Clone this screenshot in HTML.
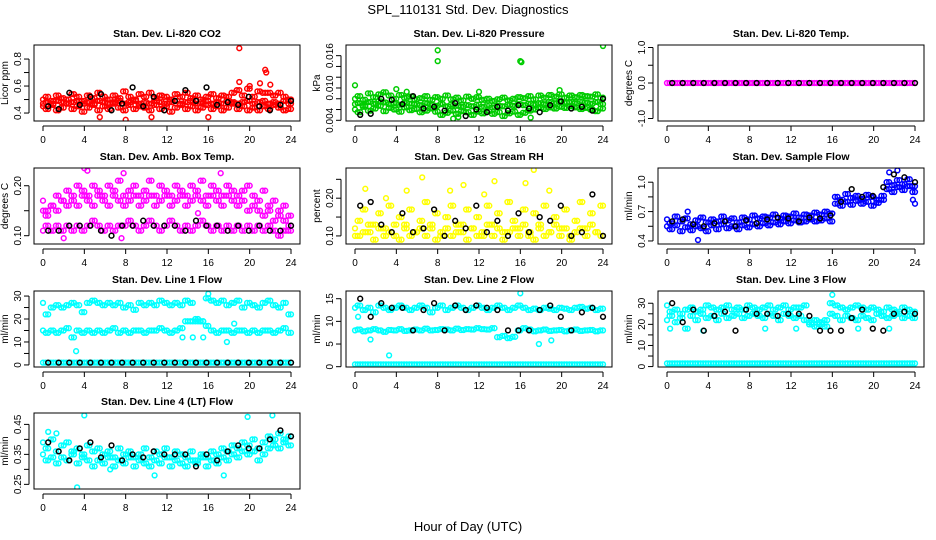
<!DOCTYPE html>
<html><head><meta charset="utf-8"><style>
body{margin:0;background:#fff;}
svg{display:block;font-family:"Liberation Sans",sans-serif;}
</style></head><body>
<svg id="chart" width="936" height="540" viewBox="0 0 936 540">
<rect width="936" height="540" fill="#fff"/>
<text x="468" y="14" text-anchor="middle" font-size="13">SPL_110131  Std. Dev. Diagnostics</text>
<text x="468" y="531" text-anchor="middle" font-size="13">Hour of Day (UTC)</text>
</svg>
<script>
const xTicks = [0,4,8,12,16,20,24];
const co2A = [0.50,0.52,0.49,0.53,0.51,0.50,0.54,0.52,0.49,0.53,0.51,0.55,0.52,0.50,0.53,0.51,0.56,0.52,0.50,0.54,0.52,0.55,0.51,0.53,0.52,0.50,0.54,0.52,0.55,0.51,0.53,0.50,0.52,0.54,0.51,0.53,0.52,0.55,0.57,0.53,0.58,0.52,0.56,0.55,0.55,0.53,0.55,0.52,0.50];
const co2B = [0.45,0.43,0.46,0.42,0.44,0.47,0.43,0.45,0.41,0.44,0.46,0.42,0.45,0.43,0.47,0.44,0.42,0.46,0.43,0.45,0.44,0.42,0.46,0.43,0.45,0.41,0.44,0.46,0.43,0.45,0.42,0.44,0.46,0.43,0.45,0.42,0.44,0.47,0.43,0.45,0.42,0.44,0.42,0.45,0.43,0.46,0.44,0.42,0.43];
const co2C = [0.47,0.48,0.47,0.49,0.48,0.47,0.48,0.49,0.47,0.48,0.47,0.49,0.48,0.47,0.48,0.49,0.47,0.48,0.49,0.47,0.48,0.47,0.49,0.48,0.47,0.48,0.49,0.47,0.48,0.49,0.47,0.48,0.49,0.47,0.48,0.47,0.49,0.48,0.47,0.48,0.49,0.47,0.48,0.49,0.47,0.48,0.47,0.49,0.47];
const co2Out = [[19,0.88],[21.5,0.72],[21.6,0.70],[19,0.63],[21,0.62],[22,0.61],[20,0.60],[8,0.35],[10.5,0.37],[5.5,0.37],[16,0.37]];
const co2K = [0.45,0.43,0.55,0.46,0.52,0.54,0.42,0.47,0.59,0.45,0.52,0.42,0.49,0.57,0.49,0.59,0.46,0.48,0.46,0.52,0.45,0.42,0.46,0.49];
const prA = [0.0080,0.0085,0.0078,0.0090,0.0083,0.0088,0.0092,0.0086,0.0080,0.0087,0.0082,0.0084,0.0079,0.0081,0.0085,0.0078,0.0083,0.0080,0.0086,0.0079,0.0082,0.0077,0.0084,0.0080,0.0083,0.0078,0.0080,0.0076,0.0079,0.0082,0.0077,0.0080,0.0083,0.0081,0.0085,0.0079,0.0086,0.0082,0.0087,0.0084,0.0088,0.0082,0.0086,0.0083,0.0087,0.0085,0.0084,0.0088,0.0082];
const prB = [0.0060,0.0055,0.0065,0.0058,0.0062,0.0067,0.0057,0.0063,0.0060,0.0056,0.0064,0.0059,0.0061,0.0055,0.0058,0.0062,0.0056,0.0050,0.0054,0.0058,0.0052,0.0057,0.0055,0.0050,0.0056,0.0053,0.0057,0.0052,0.0055,0.0048,0.0053,0.0056,0.0050,0.0054,0.0058,0.0060,0.0063,0.0061,0.0064,0.0062,0.0065,0.0063,0.0066,0.0064,0.0061,0.0063,0.0060,0.0057,0.0062];
const prC = [0.0070,0.0072,0.0068,0.0074,0.0071,0.0075,0.0073,0.0070,0.0072,0.0069,0.0073,0.0071,0.0070,0.0068,0.0072,0.0069,0.0067,0.0070,0.0066,0.0069,0.0067,0.0065,0.0068,0.0066,0.0069,0.0065,0.0068,0.0064,0.0067,0.0066,0.0069,0.0067,0.0070,0.0068,0.0071,0.0069,0.0072,0.0070,0.0074,0.0072,0.0075,0.0073,0.0074,0.0072,0.0075,0.0073,0.0071,0.0074,0.0070];
const prOut = [[0,0.0105],[4,0.0098],[5,0.0093],[8,0.0170],[8,0.0150],[16,0.0150],[16.1,0.0148],[24,0.0178],[19.8,0.0096],[12,0.0093],[9.5,0.0043],[10,0.0046],[17,0.0045]];
const prK = [0.0050,0.0052,0.0080,0.0078,0.0070,0.0085,0.0062,0.0065,0.0058,0.0072,0.0048,0.0060,0.0055,0.0065,0.0058,0.0068,0.0062,0.0055,0.0068,0.0075,0.0062,0.0065,0.0058,0.0080];
const tmA = [0,0,0,0,0,0,0,0,0,0,0,0,0,0,0,0,0,0,0,0,0,0,0,0,0,0,0,0,0,0,0,0,0,0,0,0,0,0,0,0,0,0,0,0,0,0,0,0,0];
const tmK = [0,0,0,0,0,0,0,0,0,0,0,0,0,0,0,0,0,0,0,0,0,0,0,0];
const abA = [0.17,0.15,0.16,0.18,0.17,0.19,0.18,0.20,0.19,0.18,0.20,0.19,0.18,0.20,0.19,0.21,0.18,0.19,0.20,0.18,0.19,0.21,0.18,0.20,0.19,0.18,0.20,0.19,0.18,0.20,0.19,0.21,0.18,0.20,0.19,0.18,0.20,0.19,0.18,0.19,0.20,0.18,0.17,0.19,0.16,0.17,0.15,0.16,0.14];
const abB = [0.15,0.14,0.16,0.15,0.17,0.16,0.17,0.16,0.18,0.17,0.16,0.18,0.17,0.16,0.18,0.17,0.16,0.17,0.18,0.16,0.17,0.18,0.16,0.17,0.18,0.16,0.17,0.18,0.16,0.17,0.18,0.17,0.16,0.18,0.17,0.16,0.18,0.17,0.16,0.17,0.15,0.16,0.15,0.14,0.15,0.13,0.14,0.13,0.12];
const abC = [0.11,0.12,0.11,0.12,0.11,0.12,0.11,0.12,0.11,0.12,0.13,0.12,0.11,0.12,0.11,0.12,0.12,0.13,0.12,0.11,0.12,0.13,0.12,0.11,0.12,0.13,0.12,0.11,0.12,0.11,0.12,0.13,0.12,0.11,0.12,0.11,0.12,0.11,0.12,0.11,0.12,0.11,0.12,0.11,0.12,0.11,0.10,0.11,0.11];
const abOut = [[4,0.235],[4.3,0.23],[7.8,0.225],[17.2,0.225],[2,0.095],[7.6,0.095],[15,0.145]];
const abK = [0.11,0.11,0.12,0.12,0.12,0.11,0.10,0.12,0.12,0.13,0.12,0.12,0.12,0.11,0.13,0.12,0.12,0.11,0.12,0.11,0.12,0.11,0.11,0.12];
const rhA = [0.10,0.14,0.17,0.11,0.13,0.16,0.12,0.18,0.10,0.15,0.13,0.17,0.11,0.14,0.19,0.12,0.16,0.10,0.15,0.18,0.11,0.13,0.17,0.12,0.15,0.10,0.18,0.13,0.16,0.11,0.19,0.14,0.12,0.17,0.10,0.16,0.13,0.18,0.11,0.15,0.12,0.17,0.10,0.14,0.19,0.12,0.16,0.11,0.18];
const rhB = [0.12,0.10,0.11,0.13,0.09,0.12,0.10,0.11,0.13,0.09,0.12,0.10,0.11,0.12,0.10,0.13,0.09,0.11,0.12,0.10,0.13,0.11,0.09,0.12,0.10,0.11,0.13,0.10,0.12,0.09,0.11,0.12,0.10,0.13,0.11,0.09,0.12,0.10,0.11,0.13,0.10,0.12,0.09,0.11,0.12,0.10,0.13,0.11,0.10];
const rhOut = [[1,0.225],[5,0.22],[6.5,0.255],[9.2,0.22],[10.5,0.235],[13.5,0.245],[17.3,0.275],[16.5,0.24],[18.8,0.22],[12.5,0.21],[3,0.20]];
const rhK = [0.18,0.19,0.13,0.11,0.16,0.11,0.12,0.17,0.10,0.14,0.12,0.18,0.11,0.14,0.10,0.16,0.11,0.15,0.14,0.18,0.10,0.11,0.21,0.10];
const sfA = [0.62,0.58,0.65,0.60,0.63,0.57,0.61,0.64,0.59,0.62,0.60,0.65,0.61,0.63,0.59,0.64,0.62,0.66,0.63,0.65,0.64,0.67,0.63,0.66,0.65,0.68,0.64,0.67,0.66,0.69,0.67,0.70,0.68,0.85,0.82,0.88,0.84,0.86,0.83,0.87,0.85,0.82,0.86,1.00,0.97,1.02,0.98,1.03,0.96];
const sfB = [0.55,0.52,0.56,0.50,0.54,0.51,0.55,0.53,0.50,0.56,0.52,0.57,0.53,0.55,0.52,0.56,0.54,0.57,0.55,0.58,0.56,0.59,0.57,0.60,0.58,0.61,0.59,0.60,0.62,0.60,0.61,0.63,0.60,0.78,0.76,0.80,0.77,0.81,0.78,0.80,0.76,0.79,0.82,0.93,0.90,0.95,0.92,0.96,0.90];
const sfOut = [[3,0.41],[21.5,1.10],[22.3,1.12],[23.8,0.82],[24,0.78],[2,0.70]];
const sfK = [0.60,0.62,0.57,0.55,0.58,0.60,0.55,0.61,0.58,0.62,0.64,0.63,0.60,0.64,0.63,0.66,0.80,0.93,0.85,0.86,0.95,1.08,1.05,1.00];
const l1A = [27,22,25,26,25,26,27,26,23,27,28,27,26,27,26,27,25,26,24,27,26,27,26,28,27,26,27,26,28,27,20,19,29,28,27,28,26,27,28,25,27,26,25,27,28,26,25,27,22];
const l1B = [15,14,15,14,15,16,12,15,14,15,14,15,14,15,16,14,15,14,15,15,14,15,15,16,15,14,15,16,19,19,19,19,17,15,14,15,15,14,15,15,14,15,14,15,15,14,15,16,14];
const l1C = [1,1,1,1,1,1,1,1,1,1,1,1,1,1,1,1,1,1,1,1,1,1,1,1,1,1,1,1,1,1,1,1,1,1,1,1,1,1,1,1,1,1,1,1,1,1,1,1,1];
const l1Out = [[3.2,6],[16,31],[17.8,10],[13.5,12],[14.5,12],[15.5,12],[18.5,18]];
const l1K = [1,1,1,1,1,1,1,1,1,1,1,1,1,1,1,1,1,1,1,1,1,1,1,1];
const l2A = [13,13.5,12.5,13,12,13.5,13,12.5,13,13.5,13,12.5,13,13.5,13,12,13,13.5,12.5,13,13.5,13,12.5,13,13.5,13,12.5,13,13.5,13,12.5,13,13.5,13,12.5,12.8,12.5,13,12.8,12.5,13,12.8,12.5,13,13.2,12.8,13,12.5,12.8];
const l2B = [8,8.2,7.8,8,8.3,8,7.7,8.1,8,8.3,7.9,8,8.2,8,8.4,8,8.1,8.3,8.2,8,8.4,8.1,8.3,8.2,8.5,8.3,8.2,8.5,6.5,6.8,6.3,6.6,8,8.5,8.2,7.8,8,8.2,7.9,8,8.1,7.8,8,8.2,7.9,8,8.1,7.8,8];
const l2C = [0.5,0.5,0.5,0.5,0.5,0.5,0.5,0.5,0.5,0.5,0.5,0.5,0.5,0.5,0.5,0.5,0.5,0.5,0.5,0.5,0.5,0.5,0.5,0.5,0.5,0.5,0.5,0.5,0.5,0.5,0.5,0.5,0.5,0.5,0.5,0.5,0.5,0.5,0.5,0.5,0.5,0.5,0.5,0.5,0.5,0.5,0.5,0.5,0.5];
const l2Out = [[3.3,2.5],[16,16.2],[0.3,11],[17.8,5],[19,5.8],[1.5,6]];
const l2K = [15,11,14,13,13,8,12.5,14,8,13.5,12.5,13.5,13,12.5,8,8,8,12.5,13.5,11,8,12,13,11];
const l3A = [29,26,27,25,27,28,26,27,29,28,27,28,29,27,28,27,29,28,27,28,29,27,28,29,27,28,28,29,21,22,21,22,30,29,28,27,28,29,28,27,28,27,26,28,27,26,28,27,26];
const l3B = [22,24,21,23,18,24,22,25,23,24,22,25,23,24,25,23,24,25,24,23,25,24,22,25,24,23,24,22,20,19,20,19,25,24,22,24,23,22,24,23,22,25,24,23,24,25,23,24,23];
const l3C = [1.5,1.5,1.5,1.5,1.5,1.5,1.5,1.5,1.5,1.5,1.5,1.5,1.5,1.5,1.5,1.5,1.5,1.5,1.5,1.5,1.5,1.5,1.5,1.5,1.5,1.5,1.5,1.5,1.5,1.5,1.5,1.5,1.5,1.5,1.5,1.5,1.5,1.5,1.5,1.5,1.5,1.5,1.5,1.5,1.5,1.5,1.5,1.5,1.5];
const l3Out = [[16,34],[0.3,18],[3.5,17],[9.5,18],[12.5,18],[18.5,18],[21.5,18]];
const l3K = [30,21,27,17,24,26,17,27,25,25,24,25,25,24,17,17,17,23,27,18,17,25,26,25];
const l4A = [0.39,0.37,0.40,0.36,0.38,0.39,0.36,0.37,0.35,0.38,0.36,0.37,0.35,0.36,0.34,0.37,0.35,0.36,0.34,0.35,0.37,0.34,0.36,0.35,0.37,0.34,0.36,0.35,0.34,0.36,0.33,0.35,0.34,0.36,0.35,0.37,0.36,0.38,0.37,0.39,0.38,0.40,0.37,0.39,0.41,0.40,0.42,0.40,0.41];
const l4B = [0.35,0.33,0.34,0.32,0.34,0.33,0.35,0.32,0.34,0.33,0.31,0.33,0.32,0.34,0.31,0.33,0.32,0.34,0.31,0.33,0.32,0.31,0.33,0.32,0.34,0.31,0.33,0.32,0.31,0.33,0.32,0.34,0.31,0.33,0.32,0.34,0.33,0.35,0.34,0.36,0.35,0.36,0.33,0.35,0.37,0.38,0.37,0.39,0.38];
const l4Out = [[4,0.48],[3.3,0.24],[19.8,0.475],[22.2,0.48],[0.5,0.425],[1.3,0.42],[6.5,0.30],[10.8,0.28],[17.5,0.28]];
const l4K = [0.39,0.36,0.33,0.37,0.39,0.34,0.38,0.33,0.35,0.34,0.36,0.35,0.35,0.35,0.31,0.35,0.33,0.36,0.38,0.37,0.37,0.40,0.43,0.41];

const panels = [
 {name:"co2",title:"Stan. Dev. Li-820 CO2",ylab:"Licor ppm",col:"#ff0000",ylim:[0.341,0.904],ticks:[0.4,0.5,0.6,0.7,0.8],labels:["0.4","","0.6","","0.8"],series:[co2A,co2B,co2C],out:co2Out,black:co2K},
 {name:"pressure",title:"Stan. Dev. Li-820 Pressure",ylab:"kPa",col:"#00cc00",ylim:[0.00387,0.01798],ticks:[0.004,0.006,0.008,0.010,0.012,0.014,0.016],labels:["0.004","","","0.010","","","0.016"],series:[prA,prB,prC],out:prOut,black:prK},
 {name:"temp",title:"Stan. Dev. Li-820 Temp.",ylab:"degrees C",col:"#ff00ff",ylim:[-1.07,1.07],ticks:[-1,-0.5,0,0.5,1],labels:["-1.0","","0.0","","1.0"],series:[tmA],out:[],black:tmK},
 {name:"amb-box-temp",title:"Stan. Dev. Amb. Box Temp.",ylab:"degrees C",col:"#ff00ff",ylim:[0.0834,0.2355],ticks:[0.10,0.15,0.20],labels:["0.10","","0.20"],series:[abA,abB,abC],out:abOut,black:abK},
 {name:"gas-rh",title:"Stan. Dev. Gas Stream RH",ylab:"percent",col:"#ffff00",ylim:[0.0786,0.280],ticks:[0.10,0.15,0.20,0.25],labels:["0.10","","0.20",""],series:[rhA,rhB],out:rhOut,black:rhK},
 {name:"sample-flow",title:"Stan. Dev. Sample Flow",ylab:"ml/min",col:"#0000ff",ylim:[0.369,1.145],ticks:[0.4,0.55,0.7,0.85,1.0],labels:["0.4","","0.7","","1.0"],series:[sfA,sfB],out:sfOut,black:sfK},
 {name:"line1-flow",title:"Stan. Dev. Line 1 Flow",ylab:"ml/min",col:"#00ffff",ylim:[-0.9,32.2],ticks:[0,5,10,15,20,25,30],labels:["0","","10","","20","","30"],series:[l1A,l1B,l1C],out:l1Out,black:l1K},
 {name:"line2-flow",title:"Stan. Dev. Line 2 Flow",ylab:"ml/min",col:"#00ffff",ylim:[-0.07,16.7],ticks:[0,5,10,15],labels:["0","5","10","15"],series:[l2A,l2B,l2C],out:l2Out,black:l2K},
 {name:"line3-flow",title:"Stan. Dev. Line 3 Flow",ylab:"ml/min",col:"#00ffff",ylim:[-0.2,35.8],ticks:[0,5,10,15,20,25,30],labels:["0","","10","","20","","30"],series:[l3A,l3B,l3C],out:l3Out,black:l3K},
 {name:"line4-flow",title:"Stan. Dev. Line 4 (LT) Flow",ylab:"ml/min",col:"#00ffff",ylim:[0.2345,0.488],ticks:[0.25,0.30,0.35,0.40,0.45],labels:["0.25","","0.35","","0.45"],series:[l4A,l4B],out:l4Out,black:l4K}
];

const NS="http://www.w3.org/2000/svg";
const svg=document.getElementById("chart");
function mk(tag,attrs,parent){const e=document.createElementNS(NS,tag);for(const k in attrs)e.setAttribute(k,attrs[k]);(parent||svg).appendChild(e);return e;}
const colLeft=[34,346,658], rowTop=[45,168,291,413], W=266, H=76;

panels.forEach((p,i)=>{
  const L=colLeft[i%3], T=rowTop[Math.floor(i/3)], B=T+H;
  const g=mk("g",{});
  
  
  const xs=h=>L+9+h*(248/24);
  const ys=v=>B-(v-p.ylim[0])/(p.ylim[1]-p.ylim[0])*H;
  const clip="clip"+i;
  const cp=mk("clipPath",{id:clip},g); mk("rect",{x:L,y:T,width:W,height:H},cp);
  const pts=mk("g",{"clip-path":"url(#"+clip+")"},g);
  
  
  const dot=(h,v,c,nm)=>{const e=mk("circle",{cx:xs(h).toFixed(1),cy:ys(v).toFixed(1),r:2.4,fill:"none",stroke:c,"stroke-width":1.5},pts);
    
    };
  p.series.forEach(s=>{const n=s.length;s.forEach((v,j)=>dot(j*24/(n-1),v,p.col,p.name+'-point'));
    for(let j=0;j<n-1;j++){dot((j+0.5)*24/(n-1),s[j+1],p.col,p.name+'-point');}});
  p.out.forEach(o=>dot(o[0],o[1],p.col,p.name+'-outlier'));
  p.black.forEach((v,j)=>dot(0.5+j*23.5/(p.black.length-1),v,"#000",p.name+'-hourly-point'));
  const frame=mk("rect",{x:L,y:T,width:W,height:H,fill:"none",stroke:"#000","stroke-width":1},g);
  
  
  const t=mk("text",{x:L+W/2,y:T-8,"text-anchor":"middle","font-size":10.5,"font-weight":"bold"},g); t.textContent=p.title;
  
  
  mk("line",{x1:xs(0),x2:xs(24),y1:B+5,y2:B+5,stroke:"#000"},g);
  xTicks.forEach(h=>{mk("line",{x1:xs(h),x2:xs(h),y1:B+5,y2:B+10,stroke:"#000"},g);
    const tl=mk("text",{x:xs(h),y:B+22,"text-anchor":"middle","font-size":10},g);tl.textContent=h;
    
    });
  mk("line",{x1:L-5,x2:L-5,y1:ys(p.ticks[0]),y2:ys(p.ticks[p.ticks.length-1]),stroke:"#000"},g);
  p.ticks.forEach((v,j)=>{const y=ys(v);mk("line",{x1:L-10,x2:L-5,y1:y,y2:y,stroke:"#000"},g);
    if(p.labels[j]){const tl=mk("text",{x:L-13,y:y,"text-anchor":"middle","font-size":10,transform:`rotate(-90 ${L-13} ${y})`},g);tl.textContent=p.labels[j];
      
      }});
  const yl=mk("text",{x:L-26,y:T+H/2,"text-anchor":"middle","font-size":10,transform:`rotate(-90 ${L-26} ${T+H/2})`},g);yl.textContent=p.ylab;
  
  
});
</script>
</body></html>
